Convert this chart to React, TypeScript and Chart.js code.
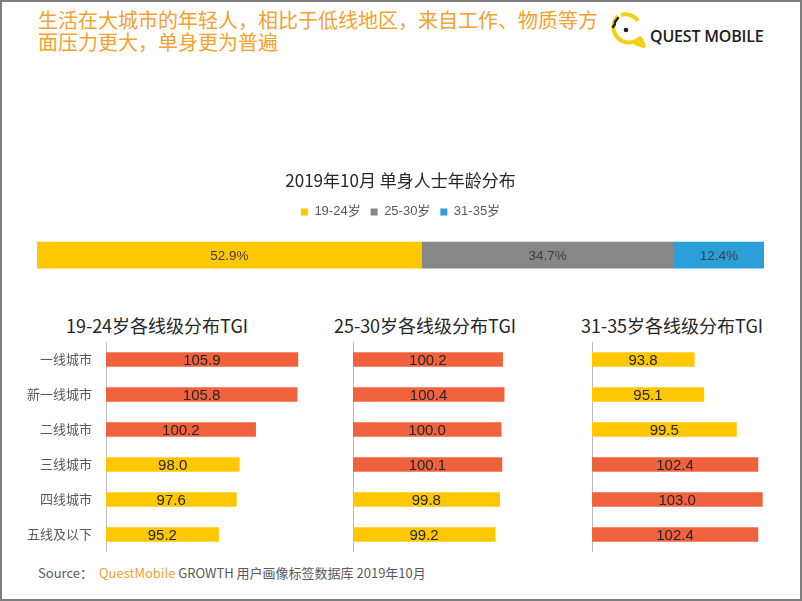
import React, { useEffect, useRef } from "react";
import { Chart, registerables } from "chart.js";

Chart.register(...registerables);

// ---------- data ----------
const shareTitle = "2019年10月 单身人士年龄分布";
const ageGroups = ["19-24岁", "25-30岁", "31-35岁"];
const ageShares = [52.9, 34.7, 12.4];

const cityTiers = ["一线城市", "新一线城市", "二线城市", "三线城市", "四线城市", "五线及以下"];
const tgiTitles = ["19-24岁各线级分布TGI", "25-30岁各线级分布TGI", "31-35岁各线级分布TGI"];
const tgi1924 = [105.9, 105.8, 100.2, 98.0, 97.6, 95.2];
const tgi2530 = [100.2, 100.4, 100.0, 100.1, 99.8, 99.2];
const tgi3135 = [93.8, 95.1, 99.5, 102.4, 103.0, 102.4];

// ---------- styles ----------
const CJK = '"Noto Sans CJK SC", "Noto Sans", sans-serif';
const LATIN = '"Liberation Sans", Arial, "Noto Sans CJK SC", sans-serif';
const ORANGE = "#F4A12E";
const RED = "#F0623D";
const YELLOW = "#FFC700";
const SHARE_COLORS = ["#FFC700", "#878787", "#2A9FD8"];
const TGI_MIN = 80;
const TGI_MAX = 107;

function labelPlugin(font: string, color: string, fmt: (v: number) => string) {
  return {
    id: "valueLabels",
    afterDatasetsDraw(chart: any) {
      const ctx = chart.ctx;
      ctx.save();
      ctx.font = font;
      ctx.fillStyle = color;
      ctx.textAlign = "center";
      ctx.textBaseline = "middle";
      chart.data.datasets.forEach((ds: any, di: number) => {
        const meta = chart.getDatasetMeta(di);
        meta.data.forEach((el: any, i: number) => {
          const p = el.getProps(["x", "y", "base"], true);
          ctx.fillText(fmt(ds.data[i]), (p.x + p.base) / 2, p.y + 1);
        });
      });
      ctx.restore();
    },
  };
}

function shareConfig(): any {
  return {
    type: "bar",
    data: {
      labels: [""],
      datasets: ageGroups.map((g, i) => ({
        label: g,
        data: [ageShares[i]],
        backgroundColor: SHARE_COLORS[i],
        borderWidth: 0,
        barThickness: 26,
      })),
    },
    options: {
      indexAxis: "y",
      animation: false,
      responsive: true,
      maintainAspectRatio: false,
      events: [],
      layout: { padding: { left: 37, right: 38, top: 0, bottom: 0 } },
      plugins: {
        title: {
          display: true,
          text: shareTitle,
          color: "#262626",
          font: { family: CJK, size: 17, weight: "normal" },
          padding: { top: 4, bottom: 5 },
        },
        legend: {
          display: true,
          labels: {
            boxWidth: 7,
            boxHeight: 7,
            color: "#595959",
            font: { family: LATIN, size: 13 },
            padding: 10,
          },
        },
        tooltip: { enabled: false },
      },
      scales: {
        x: { display: false, stacked: true, min: 0, max: 100 },
        y: { display: false, stacked: true },
      },
    },
    plugins: [labelPlugin('13.5px "Liberation Sans", Arial, sans-serif', "#404040", (v) => v.toFixed(1) + "%")],
  };
}

function tgiConfig(values: number[], showLabels: boolean, axisWidth: number): any {
  return {
    type: "bar",
    data: {
      labels: cityTiers,
      datasets: [
        {
          data: values,
          backgroundColor: values.map((v) => (v >= 100 ? RED : YELLOW)),
          borderWidth: 0,
          barThickness: 14,
          base: TGI_MIN,
        },
      ],
    },
    options: {
      indexAxis: "y",
      animation: false,
      responsive: true,
      maintainAspectRatio: false,
      events: [],
      layout: { padding: 0 },
      plugins: {
        legend: { display: false },
        title: { display: false },
        tooltip: { enabled: false },
      },
      scales: {
        x: { display: false, min: TGI_MIN, max: TGI_MAX },
        y: {
          display: true,
          grid: { display: false, drawTicks: false },
          border: { display: true, color: "#bdbdbd", width: 1 },
          ticks: {
            display: showLabels,
            color: "#595959",
            font: { family: CJK, size: 13 },
            padding: 14,
          },
          afterFit: (s: any) => {
            s.width = axisWidth;
            s.paddingTop = 0;
            s.paddingBottom = 0;
          },
        },
      },
    },
    plugins: [labelPlugin('15px "Liberation Sans", Arial, sans-serif', "#262626", (v) => v.toFixed(1))],
  };
}

function ChartBox({ make, left, top, width, height }: { make: () => any; left: number; top: number; width: number; height: number }) {
  const ref = useRef<HTMLCanvasElement>(null);
  useEffect(() => {
    const chart = new Chart(ref.current as HTMLCanvasElement, make());
    return () => chart.destroy();
  }, []);
  return (
    <div style={{ position: "absolute", left, top, width, height }}>
      <canvas ref={ref} />
    </div>
  );
}

function Logo() {
  return (
    <div style={{ position: "absolute", left: 604, top: 8, width: 170, height: 44 }}>
      <svg width="46" height="44" viewBox="0 0 46 44" style={{ position: "absolute", left: 0, top: 0 }}>
        <path d="M 14 8 A 15 15 0 1 0 36 30 L 40 38 L 31 35" fill="none" stroke="#F5CF12" strokeWidth="4" strokeLinejoin="round" />
        <path d="M 17 7 A 15 15 0 0 1 34 13" fill="none" stroke="#F5CF12" strokeWidth="4" />
        <path d="M 11 14 L 14 10" stroke="#1d1d1d" strokeWidth="2.4" strokeLinecap="round" />
        <path d="M 9 19 L 11 16" stroke="#1d1d1d" strokeWidth="2.4" strokeLinecap="round" />
        <circle cx="22" cy="22" r="2.3" fill="#1d1d1d" />
      </svg>
      <div
        style={{
          position: "absolute",
          left: 46,
          top: 18,
          fontFamily: '"Open Sans", sans-serif',
          fontWeight: 600,
          fontSize: 16,
          lineHeight: "20px",
          color: "#1d1d1d",
          letterSpacing: -0.2,
          whiteSpace: "nowrap",
        }}
      >
        QUEST MOBILE
      </div>
    </div>
  );
}

const titleCenters = [157, 425, 672];

export default function App() {
  return (
    <div
      style={{
        position: "absolute",
        left: 0,
        top: 0,
        width: 802,
        height: 601,
        background: "#fff",
        overflow: "hidden",
        fontFamily: CJK,
      }}
    >
      <div
        style={{
          position: "absolute",
          left: 38,
          top: 9,
          fontSize: 20,
          lineHeight: "22px",
          color: ORANGE,
          whiteSpace: "nowrap",
        }}
      >
        生活在大城市的年轻人，相比于低线地区，来自工作、物质等方
        <br />
        面压力更大，单身更为普遍
      </div>
      <Logo />

      <ChartBox make={shareConfig} left={0} top={166} width={802} height={116} />

      {tgiTitles.map((t, i) => (
        <div
          key={t}
          style={{
            position: "absolute",
            left: titleCenters[i] - 130,
            top: 313,
            width: 260,
            textAlign: "center",
            fontSize: 18,
            lineHeight: "24px",
            color: "#262626",
            whiteSpace: "nowrap",
          }}
        >
          {t}
        </div>
      ))}

      <ChartBox make={() => tgiConfig(tgi1924, true, 106)} left={0} top={342} width={306} height={210} />
      <ChartBox make={() => tgiConfig(tgi2530, false, 10)} left={343} top={342} width={210} height={210} />
      <ChartBox make={() => tgiConfig(tgi3135, false, 10)} left={582} top={342} width={210} height={210} />

      <div
        style={{
          position: "absolute",
          left: 38,
          top: 564,
          fontSize: 13,
          lineHeight: "18px",
          color: "#595959",
          whiteSpace: "nowrap",
        }}
      >
        Source：<span style={{ marginLeft: 6, color: ORANGE }}>QuestMobile</span> GROWTH 用户画像标签数据库 2019年10月
      </div>

      <div
        style={{
          position: "absolute",
          left: 0,
          top: 0,
          width: 802,
          height: 601,
          boxSizing: "border-box",
          border: "2px solid #7f7f7f",
          pointerEvents: "none",
        }}
      />
    </div>
  );
}
